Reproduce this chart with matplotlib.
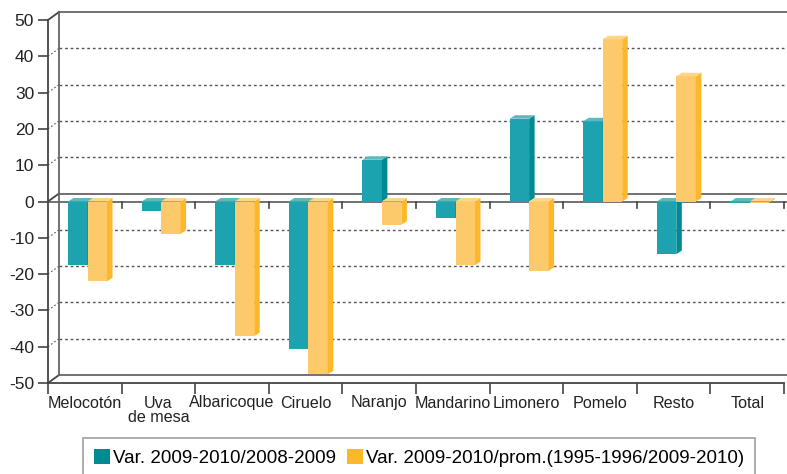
import matplotlib.pyplot as plt
from matplotlib.patches import Polygon, Rectangle
import numpy as np

plt.rcParams['font.family'] = ['Liberation Sans', 'DejaVu Sans']

categories = ['Melocotón', 'Uva\nde mesa', 'Albaricoque', 'Ciruelo', 'Naranjo',
              'Mandarino', 'Limonero', 'Pomelo', 'Resto', 'Total']
var_anual = [-17.4, -2.7, -17.4, -40.5, 11.5, -4.6, 22.8, 22.1, -14.5, -0.5]
var_prom = [-22.0, -8.9, -37.1, -47.6, -6.4, -17.5, -19.1, 44.7, 34.5, -0.3]
series_labels = ['Var. 2009-2010/2008-2009', 'Var. 2009-2010/prom.(1995-1996/2009-2010)']

W, H = 787, 474
fig = plt.figure(figsize=(W / 100, H / 100), dpi=100)
ax_l, ax_r, ax_t, ax_b = 48, 784, 20, 383
ax = fig.add_axes([ax_l / W, 1 - ax_b / H, (ax_r - ax_l) / W, (ax_b - ax_t) / H])
n = len(categories)
ax.set_xlim(0, n)
ax.set_ylim(-50, 50)

# pixel -> data units
px_x = n / (ax_r - ax_l)
px_y = 100 / (ax_b - ax_t)
ox, oy = 11 * px_x, 8 * px_y  # back wall offset

line_col = '#444444'
grid_col = '#555555'

# back wall
for v in range(-40, 50, 10):
    if v == 0:
        continue
    ax.plot([ox, n + 0.1], [v + oy, v + oy], ls=(0, (2, 2)), lw=1, color=grid_col,
            clip_on=False, zorder=1)
    ax.plot([0, ox], [v, v + oy], ls=(0, (1.5, 2)), lw=0.8, color=grid_col,
            clip_on=False, zorder=1)
for v in (-50, 0, 50):
    ax.plot([ox, n + 0.1], [v + oy, v + oy], lw=1.3, color='#666666', clip_on=False, zorder=1)
    ax.plot([0, ox], [v, v + oy], lw=1.3, color=line_col, clip_on=False, zorder=1)
ax.plot([ox, ox], [-50 + oy, 50 + oy], lw=1.3, color='#666666', clip_on=False, zorder=1)

# front zero line with small ticks
ax.plot([0, n + 0.1], [0, 0], lw=1.3, color='#666666', clip_on=False, zorder=2)
for i in range(1, n + 1):
    ax.plot([i, i], [0, -6 * px_y], lw=1.2, color=line_col, clip_on=False, zorder=2)

# 3D-looking bars
bw = 19.5 * px_x
depth_x, depth_y = 5.5 * px_x, 3.5 * px_y
styles = [
    dict(front='#1CA3AF', side='#008B92', top='#5DB8BF', off=20 * px_x),
    dict(front='#FCCA6A', side='#FDB72A', top='#FDD68A', off=39.5 * px_x),
]
for vals, st in zip([var_anual, var_prom], styles):
    for i, v in enumerate(vals):
        x0 = i + st['off']
        x1 = x0 + bw
        top = max(v, 0)
        bot = min(v, 0)
        ax.add_patch(Rectangle((x0, bot), bw, top - bot, facecolor=st['front'],
                               edgecolor='none', zorder=3))
        ax.add_patch(Polygon([(x1, bot), (x1 + depth_x, bot + depth_y),
                              (x1 + depth_x, top + depth_y), (x1, top)],
                             closed=True, facecolor=st['side'], edgecolor='none', zorder=3))
        ax.add_patch(Polygon([(x0, top), (x1, top), (x1 + depth_x, top + depth_y),
                              (x0 + depth_x, top + depth_y)],
                             closed=True, facecolor=st['top'], edgecolor='none', zorder=3))

# axes
for s in ['top', 'right']:
    ax.spines[s].set_visible(False)
ax.spines['left'].set_color(line_col)
ax.spines['bottom'].set_color(line_col)
ax.spines['left'].set_linewidth(1.3)
ax.spines['bottom'].set_linewidth(1.3)
ax.set_yticks(range(-50, 51, 10))
ax.set_yticklabels([str(v) for v in range(-50, 51, 10)], fontsize=12.5, color='#222222')
ax.tick_params(axis='y', length=7, width=1.2, color=line_col, pad=3)
ax.set_xticks(np.arange(n) + 0.5)
ax.set_xticklabels(categories, fontsize=11.6, color='#222222', linespacing=0.95)
ax.set_xticks(np.arange(n + 1), minor=True)
ax.tick_params(axis='x', which='major', length=0, pad=9)
ax.tick_params(axis='x', which='minor', length=8, width=1.2, color=line_col)

handles = [Rectangle((0, 0), 1, 1, facecolor='#008B92'),
           Rectangle((0, 0), 1, 1, facecolor='#FDB72A')]
leg = fig.legend(handles, series_labels, loc='upper left', ncol=2,
                 bbox_to_anchor=(83 / W, 1 - 437.5 / H), frameon=True, fancybox=False,
                 fontsize=13.5, handlelength=0.85, handleheight=0.85, handletextpad=0.15,
                 columnspacing=0.6, borderpad=0.6, borderaxespad=0,
                 edgecolor='#888888')
leg.get_frame().set_linewidth(1.2)

fig.savefig('out.png', dpi=100)
